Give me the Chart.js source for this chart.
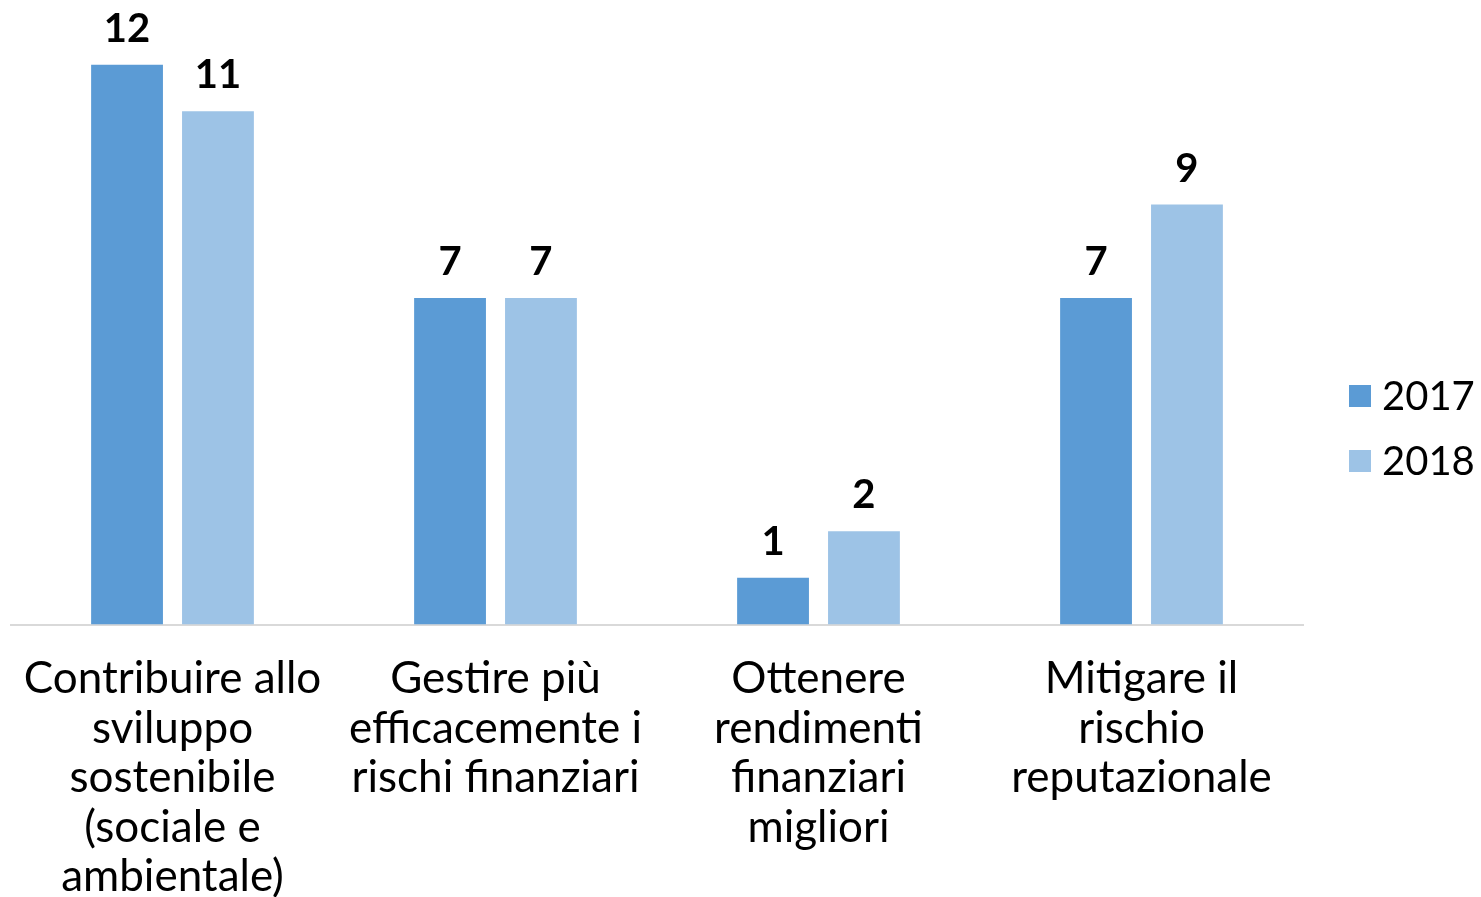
<!DOCTYPE html>
<html>
<head>
<meta charset="utf-8">
<script src="https://cdn.jsdelivr.net/npm/chart.js@4"></script>
<style>
  html, body { margin: 0; padding: 0; background: #fff; overflow: hidden; }
  #wrap { width: 1481px; height: 932px; position: relative; }
</style>
</head>
<body>
<div id="wrap"><canvas id="chart"></canvas></div>
<script>
const categorie = [
  ['Contribuire allo', 'sviluppo', 'sostenibile', '(sociale e', 'ambientale)'],
  ['Gestire più', 'efficacemente i', 'rischi finanziari'],
  ['Ottenere', 'rendimenti', 'finanziari', 'migliori'],
  ['Mitigare il', 'rischio', 'reputazionale']
];
const anni = ['2017', '2018'];
const valori2017 = [12, 7, 1, 7];
const valori2018 = [11, 7, 2, 9];
const colori = ['#5B9BD5', '#9DC3E6'];

const FONT = 'Lato, "Open Sans", sans-serif';

// etichette sopra le barre
const etichette = {
  id: 'etichette',
  afterDatasetsDraw(chart) {
    const ctx = chart.ctx;
    ctx.save();
    ctx.font = 'bold 40px ' + FONT;
    ctx.fillStyle = '#000';
    ctx.textAlign = 'center';
    ctx.textBaseline = 'middle';
    chart.data.datasets.forEach((ds, i) => {
      chart.getDatasetMeta(i).data.forEach((bar, j) => {
        ctx.fillText(ds.data[j], bar.x, bar.y - 36);
      });
    });
    ctx.restore();
  }
};

// legenda a destra
const legenda = {
  id: 'legenda',
  afterDraw(chart) {
    const ctx = chart.ctx;
    ctx.save();
    ctx.font = '40px ' + FONT;
    ctx.textBaseline = 'middle';
    chart.data.datasets.forEach((ds, i) => {
      const y = 396 + i * 65;
      ctx.fillStyle = ds.backgroundColor;
      ctx.fillRect(1349, y - 11, 22, 22);
      ctx.fillStyle = '#000';
      ctx.fillText(ds.label, 1382, y + 1);
    });
    ctx.restore();
  }
};

new Chart(document.getElementById('chart'), {
  type: 'bar',
  data: {
    labels: categorie,
    datasets: [
      { label: anni[0], data: valori2017, backgroundColor: colori[0] },
      { label: anni[1], data: valori2018, backgroundColor: colori[1] }
    ]
  },
  options: {
    responsive: true,
    maintainAspectRatio: false,
    animation: false,
    layout: { padding: { left: 11, right: 178, top: 18, bottom: 0 } },
    datasets: { bar: { categoryPercentage: 0.563, barPercentage: 0.79 } },
    plugins: { legend: { display: false }, tooltip: { enabled: false } },
    scales: {
      x: {
        afterFit(scale) { scale.paddingLeft = 0; scale.paddingRight = 0; },
        grid: { display: false, drawTicks: false },
        border: { display: true, color: '#D9D9D9', width: 2 },
        ticks: {
          color: '#000',
          font: { family: FONT, size: 44, lineHeight: 1.125 },
          padding: 30,
          maxRotation: 0,
          autoSkip: false
        }
      },
      y: {
        display: false,
        min: 0,
        max: 13
      }
    }
  },
  plugins: [etichette, legenda]
});
</script>
</body>
</html>
